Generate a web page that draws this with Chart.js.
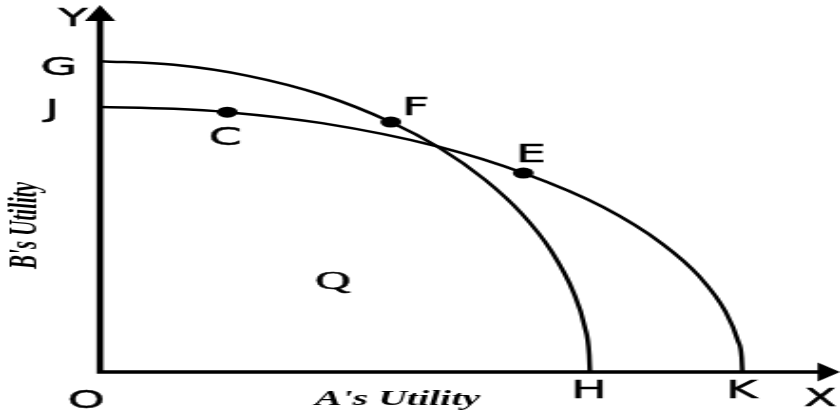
<!DOCTYPE html>
<html>
<head>
<meta charset="utf-8">
<title>Utility possibility curves</title>
<script src="https://cdn.jsdelivr.net/npm/chart.js@4.4.1/dist/chart.umd.min.js"></script>
<style>
  html, body { margin: 0; padding: 0; background: #fff; overflow: hidden; }
  /* the source picture is stretched sideways, so the chart is drawn narrow and scaled */
  #wrap { width: 442px; height: 415px; transform: scaleX(1.9005); transform-origin: 0 0; }
</style>
</head>
<body>
<div id="wrap"><canvas id="chart" width="442" height="415" style="width:442px;height:415px"></canvas></div>
<script>
// axis ranges (A's utility across, B's utility up)
const xMax = 10;
const yMax = 10;

// outer frontier G - F - H
const outerX = [0, 1, 2, 3, 3.93, 4.57, 5.2, 5.7, 6.1, 6.4, 6.55, 6.61, 6.62];
const outerY = [8.47, 8.37, 8.07, 7.55, 6.81, 6.13, 5.24, 4.31, 3.29, 2.16, 1.23, 0.47, 0];

// inner frontier J - C - E - K
const innerX = [0, 1, 1.72, 3, 4.57, 5.72, 6.8, 7.6, 8.1, 8.45, 8.62, 8.67, 8.68];
const innerY = [7.22, 7.17, 7.08, 6.78, 6.14, 5.42, 4.49, 3.49, 2.6, 1.65, 0.85, 0.4, 0];

// marked points
const pointNames = ['C', 'F', 'E'];
const pointX = [1.72, 3.93, 5.72];
const pointY = [7.08, 6.81, 5.42];

// intercepts on the axes
const yMarkNames = ['G', 'J'];
const yMarkValues = [8.47, 7.22];
const xMarkNames = ['H', 'K'];
const xMarkValues = [6.62, 8.68];

// region label
const regionName = 'Q';
const regionX = 3.15;
const regionY = 2.5;

const xTitle = "A's Utility";
const yTitle = "B's Utility";

const toXY = (xs, ys) => xs.map((x, i) => ({ x: x, y: ys[i] }));

// label offsets next to the points, in canvas px
const pointLabelOffset = { C: [-1, 24], F: [13, -16], E: [4, -20] };

function capText(ctx, text, cx, cy) {
  // cy = middle of the capital letters
  ctx.textAlign = 'center';
  ctx.textBaseline = 'alphabetic';
  ctx.fillText(text, cx, cy + 9);
  ctx.strokeText(text, cx, cy + 9);
}

const diagramParts = {
  id: 'diagramParts',
  afterDatasetsDraw(chart) {
    const ctx = chart.ctx;
    const xs = chart.scales.x, ys = chart.scales.y;
    const x0 = xs.getPixelForValue(0), y0 = ys.getPixelForValue(0);
    const xEnd = xs.getPixelForValue(xMax), yEnd = ys.getPixelForValue(yMax);

    ctx.save();
    ctx.strokeStyle = '#000';
    ctx.fillStyle = '#000';

    // axes
    ctx.lineWidth = 3.5;
    ctx.lineJoin = 'miter';
    ctx.beginPath();
    ctx.moveTo(x0, yEnd + 12);
    ctx.lineTo(x0, y0);
    ctx.lineTo(xEnd - 8, y0);
    ctx.stroke();

    // arrow heads
    ctx.beginPath();
    ctx.moveTo(x0, yEnd);
    ctx.lineTo(x0 - 8, yEnd + 16);
    ctx.lineTo(x0 + 8, yEnd + 16);
    ctx.closePath();
    ctx.fill();
    ctx.beginPath();
    ctx.moveTo(xEnd, y0);
    ctx.lineTo(xEnd - 11.8, y0 - 9.5);
    ctx.lineTo(xEnd - 11.8, y0 + 9.5);
    ctx.closePath();
    ctx.fill();

    // letters
    ctx.lineWidth = 0.5;
    ctx.font = '25px "DejaVu Sans"';
    capText(ctx, 'Y', x0 - 14.2, yEnd + 12);
    capText(ctx, 'X', xEnd - 10.5, y0 + 25);
    capText(ctx, 'O', x0 - 7.3, y0 + 27);
    yMarkNames.forEach((n, i) => {
      const py = ys.getPixelForValue(yMarkValues[i]);
      capText(ctx, n, x0 - (n === 'G' ? 21.6 : 25.2), py + (n === 'G' ? 5 : 1));
    });
    xMarkNames.forEach((n, i) => {
      capText(ctx, n, xs.getPixelForValue(xMarkValues[i]) - 0.5, y0 + 17);
    });
    pointNames.forEach((n, i) => {
      const off = pointLabelOffset[n];
      capText(ctx, n, xs.getPixelForValue(pointX[i]) + off[0], ys.getPixelForValue(pointY[i]) + off[1]);
    });

    ctx.font = '26px "Liberation Serif"';
    capText(ctx, regionName, xs.getPixelForValue(regionX), ys.getPixelForValue(regionY));

    // axis titles
    ctx.font = 'italic bold 21px "Liberation Serif"';
    ctx.textAlign = 'center';
    ctx.textBaseline = 'alphabetic';
    ctx.fillText(xTitle, x0 + 156.5, y0 + 33);
    ctx.translate(19, (yEnd + y0) / 2 + 37);
    ctx.rotate(-Math.PI / 2);
    ctx.fillText(yTitle, 0, 0);
    ctx.restore();
  }
};

const ctx = document.getElementById('chart').getContext('2d');
const chart = new Chart(ctx, {
  type: 'scatter',
  data: {
    datasets: [{
      data: toXY(outerX, outerY),
      showLine: true,
      borderColor: '#000',
      borderWidth: 2.5,
      pointRadius: 0,
      cubicInterpolationMode: 'monotone',
      clip: false
    }, {
      data: toXY(innerX, innerY),
      showLine: true,
      borderColor: '#000',
      borderWidth: 2.5,
      pointRadius: 0,
      cubicInterpolationMode: 'monotone',
      clip: false
    }, {
      data: toXY(pointX, pointY),
      showLine: false,
      pointRadius: 5.5,
      pointBackgroundColor: '#000',
      pointBorderWidth: 0,
      clip: false
    }]
  },
  options: {
    responsive: false,
    animation: false,
    events: [],
    layout: { autoPadding: false, padding: { left: 52.6, right: 0, top: 5, bottom: 43 } },
    plugins: { legend: { display: false }, tooltip: { enabled: false } },
    scales: {
      x: { type: 'linear', min: 0, max: xMax, display: false },
      y: { type: 'linear', min: 0, max: yMax, display: false }
    }
  },
  plugins: [diagramParts]
});
</script>
</body>
</html>
